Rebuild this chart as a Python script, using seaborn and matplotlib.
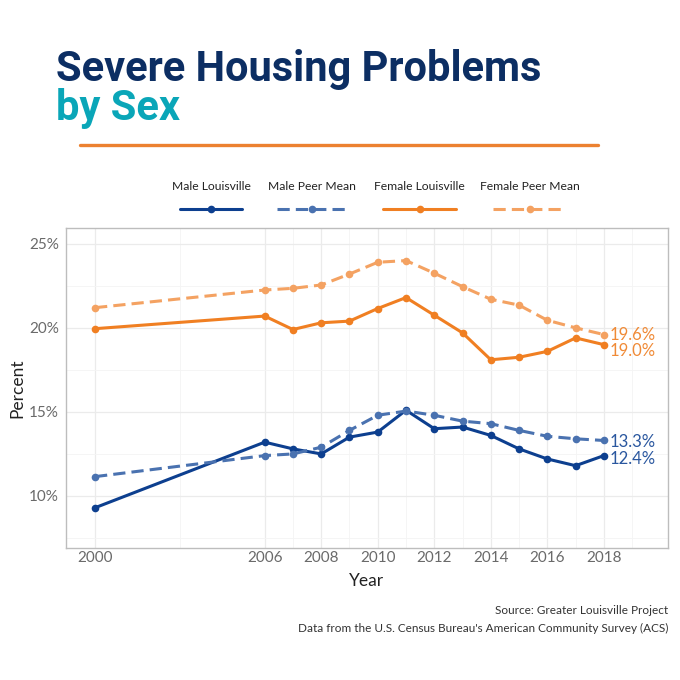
import numpy as np
import pandas as pd
import matplotlib
matplotlib.use("Agg")
import matplotlib.pyplot as plt
from matplotlib.lines import Line2D
from matplotlib.ticker import MultipleLocator, FixedLocator
import seaborn as sns

# values (percent)
years = [2000, 2006, 2007, 2008, 2009, 2010, 2011, 2012, 2013, 2014, 2015, 2016, 2017, 2018]
male_louisville = [9.3, 13.2, 12.8, 12.5, 13.5, 13.8, 15.1, 14.0, 14.1, 13.6, 12.8, 12.2, 11.8, 12.4]
male_peer = [11.15, 12.4, 12.5, 12.9, 13.9, 14.8, 15.05, 14.8, 14.45, 14.3, 13.9, 13.55, 13.4, 13.3]
female_louisville = [19.95, 20.7, 19.9, 20.3, 20.4, 21.15, 21.8, 20.75, 19.7, 18.1, 18.25, 18.6, 19.4, 19.0]
female_peer = [21.2, 22.25, 22.35, 22.55, 23.2, 23.9, 24.0, 23.25, 22.45, 21.7, 21.35, 20.45, 20.0, 19.6]

series_names = ["Male Louisville", "Male Peer Mean", "Female Louisville", "Female Peer Mean"]
end_labels = ["12.4%", "13.3%", "19.0%", "19.6%"]
x_ticks = [2000, 2006, 2008, 2010, 2012, 2014, 2016, 2018]

colors = {
    "Male Louisville": "#0D3F8F",
    "Male Peer Mean": "#4A72B0",
    "Female Louisville": "#F07F22",
    "Female Peer Mean": "#F4A262",
}
label_colors = {
    "Male Louisville": "#2A579F",
    "Male Peer Mean": "#2A579F",
    "Female Louisville": "#F08A36",
    "Female Peer Mean": "#F08A36",
}
dashes = {
    "Male Louisville": "",
    "Male Peer Mean": (4, 2),
    "Female Louisville": "",
    "Female Peer Mean": (4, 2),
}

df = pd.DataFrame({
    "Year": years * 4,
    "Percent": male_louisville + male_peer + female_louisville + female_peer,
    "series": np.repeat(series_names, len(years)),
})

sns.set_theme(style="whitegrid")
plt.rcParams["font.family"] = ["Lato", "DejaVu Sans"]

fig = plt.figure(figsize=(6.8, 6.8), dpi=100)
ax = fig.add_axes([0.097, 0.194, 0.885, 0.471])

sns.lineplot(data=df, x="Year", y="Percent", hue="series", style="series",
             palette=colors, dashes=dashes, markers={s: "o" for s in series_names},
             markersize=5.5, markeredgewidth=0, linewidth=2.2, legend=False, ax=ax)

ax.set_xlim(1998.97, 2020.26)
ax.set_ylim(6.9, 25.95)
ax.xaxis.set_major_locator(FixedLocator(x_ticks))
ax.xaxis.set_minor_locator(FixedLocator([2003, 2007, 2009, 2011, 2013, 2015, 2017, 2019]))
ax.yaxis.set_major_locator(MultipleLocator(5))
ax.yaxis.set_minor_locator(MultipleLocator(2.5))
ax.set_yticks([10, 15, 20, 25])
ax.set_yticklabels(["10%", "15%", "20%", "25%"])
ax.grid(which="major", color="#EBEBEB", linewidth=0.9)
ax.grid(which="minor", color="#F4F4F4", linewidth=0.6)
for sp in ax.spines.values():
    sp.set_color("#BDBDBD")
    sp.set_linewidth(1.0)
ax.tick_params(axis="both", which="both", length=0, labelsize=11, labelcolor="#6A6A6A")
ax.tick_params(axis="x", pad=2)
ax.tick_params(axis="y", pad=5)
ax.set_xlabel("Year", fontsize=12.5, color="#222222", labelpad=6)
ax.set_ylabel("Percent", fontsize=12.5, color="#222222", labelpad=3)

# end-of-line value labels
last_vals = [male_louisville[-1], male_peer[-1], female_louisville[-1], female_peer[-1]]
nudges = [-0.2, -0.1, -0.4, 0.0]
for s, v, t, n in zip(series_names, last_vals, end_labels, nudges):
    ax.text(years[-1] + 0.2, v + n, t, color=label_colors[s], fontsize=12,
            ha="left", va="center")

# title block
fig.text(0.083, 1 - 81 / 680, "Severe Housing Problems", fontsize=30, fontweight="bold",
         color="#0C2E63", family=["Roboto", "DejaVu Sans"], va="baseline")
fig.text(0.083, 1 - 120 / 680, "by Sex", fontsize=30, fontweight="bold",
         color="#0AA6B8", family=["Roboto", "DejaVu Sans"], va="baseline")
fig.add_artist(Line2D([80 / 680, 598 / 680], [1 - 145 / 680] * 2, color="#EC8130",
                      linewidth=2.4, transform=fig.transFigure))

# legend: labels above the keys
leg_centers = [211, 312, 419, 530]
leg_spans = [(180, 242), (277, 347), (383, 456), (493, 566)]
for s, c, (x0, x1) in zip(series_names, leg_centers, leg_spans):
    fig.text(c / 680, 1 - 187 / 680, s, fontsize=8.7, color="#222222",
             ha="center", va="center")
    y = 1 - 209 / 680
    ls = (0, (4, 2)) if "Peer" in s else "-"
    fig.add_artist(Line2D([x0 / 680, x1 / 680], [y, y], color=colors[s], linewidth=2.2,
                          linestyle=ls, transform=fig.transFigure))
    fig.add_artist(Line2D([(x0 + x1) / 2 / 680], [y], color=colors[s], marker="o",
                          markersize=5.5, markeredgewidth=0, transform=fig.transFigure))

# source note
fig.text(668 / 680, 1 - 611 / 680, "Source: Greater Louisville Project", fontsize=8.5,
         color="#333333", ha="right", va="center")
fig.text(668 / 680, 1 - 628 / 680,
         "Data from the U.S. Census Bureau's American Community Survey (ACS)",
         fontsize=8.5, color="#333333", ha="right", va="center")

fig.savefig("out.png", dpi=100, facecolor="white")
